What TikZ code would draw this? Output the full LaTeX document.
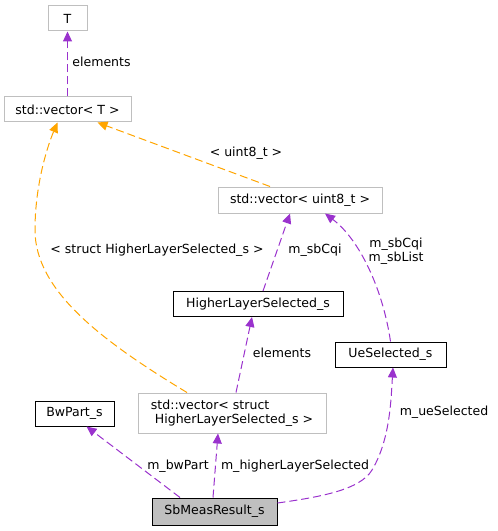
\documentclass[tikz,border=0pt]{standalone}
\usepackage{fontspec}
\setmainfont{DejaVu Sans}
\usetikzlibrary{arrows.meta,calc}
\definecolor{usecol}{HTML}{9A32CD}
\definecolor{tplcol}{HTML}{FFA500}
\definecolor{greybox}{HTML}{BFBFBF}
\begin{document}
\begin{tikzpicture}[x=0.75pt, y=-0.75pt, font=\fontsize{9.4}{10.5}\selectfont,
	cls/.style={draw=black, line width=0.75pt, minimum height=18.75pt, inner sep=0pt},
	ext/.style={draw=greybox, line width=0.75pt, minimum height=18.75pt, inner sep=0pt},
	usage/.style={draw=usecol, line width=0.75pt, dash pattern=on 6pt off 3pt, -{Triangle[length=7.5pt,width=6.75pt,fill=usecol]}},
	tmpl/.style={draw=tplcol, line width=0.75pt, dash pattern=on 6pt off 3pt, -{Triangle[length=7.5pt,width=6.75pt,fill=tplcol]}},
	lbl/.style={inner sep=0pt, align=center}]
	\useasboundingbox (0,0) rectangle (497,531);
	
	\node[ext, minimum width=29.25pt] (T) at (67.5,18.5) {T};
	\node[ext, minimum width=95.25pt] (vecT) at (67.5,109.5) {std::vector< T >};
	\node[ext, minimum width=123pt, minimum height=19.5pt] (vecU8) at (300,200) {std::vector< uint8\_t >};
	\node[cls, minimum width=127.5pt] (hls) at (258,304) {HigherLayerSelected\_s};
	\node[cls, minimum width=83.25pt] (ue) at (390.5,354.5) {UeSelected\_s};
	\node[ext, minimum width=141pt, minimum height=30pt, align=left] (vecHLS) at (232,413) {std::vector< struct\\\hspace*{3pt}HigherLayerSelected\_s >};
	\node[cls, minimum width=59.25pt] (bw) at (74.5,413.5) {BwPart\_s};
	\node[cls, fill=greybox, minimum width=93.75pt, minimum height=20.25pt] (sb) at (214.5,511.5) {SbMeasResult\_s};
	
	\draw[usage] (vecT.north) -- (T.south);
	\draw[tmpl] ($(vecU8.north)+(-30,0)$) -- ($(vecT.south)+(30,0)$);
	\draw[tmpl] ($(vecHLS.north)+(-45,0)$) .. controls (100,340) and (35,290) .. (35,230) .. controls (35,180) and (50,140) .. ($(vecT.south)+(-10,0)$);
	\draw[usage] ($(hls.north)+(5,0)$) -- ($(vecU8.south)+(-10,0)$);
	\draw[usage] (ue.north) .. controls (383,290) and (360,240) .. ($(vecU8.south)+(25,0)$);
	\draw[usage] ($(vecHLS.north)+(4,0)$) -- ($(hls.south)+(-6,0)$);
	\draw[usage] ($(sb.north)+(-34.5,0)$) -- ($(bw.south)+(12,0)$);
	\draw[usage] ($(sb.north)+(-1.5,0)$) -- ($(vecHLS.south)+(-14,0)$);
	\draw[usage] ($(sb.east)+(0,-8.5)$) .. controls (320,497) and (360,490) .. (372,470) .. controls (390,440) and (391,400) .. ($(ue.south)+(2.5,0)$);
	
	\node[lbl] (lElemT) at (101.5,62) {elements};
	\node[lbl] (lU8) at (246,153) {< uint8\_t >};
	\node[lbl] (lStruct) at (157,250) {< struct HigherLayerSelected\_s >};
	\node[lbl] (lCqi) at (315,250) {m\_sbCqi};
	\node[lbl] (lCqiList) at (396,251) {m\_sbCqi\\m\_sbList};
	\node[lbl] (lElemH) at (282,353) {elements};
	\node[lbl] (lBw) at (178,466) {m\_bwPart};
	\node[lbl] (lHls) at (295,466) {m\_higherLayerSelected};
	\node[lbl] (lUe) at (444,412) {m\_ueSelected};
\end{tikzpicture}
\end{document}
